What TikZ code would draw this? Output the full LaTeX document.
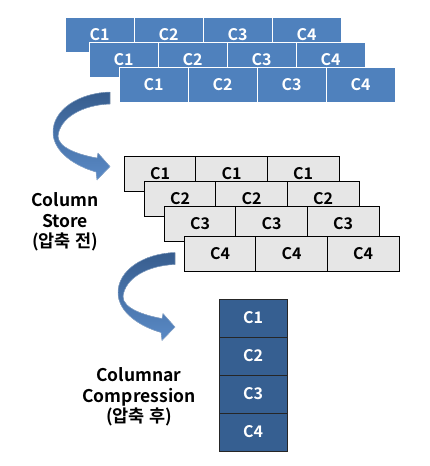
\documentclass[tikz,border=0pt]{standalone}
\usepackage{fontspec}
\setmainfont{Noto Sans CJK KR}[BoldFont={Noto Sans CJK KR Bold}]
\usepackage{tikz}
\definecolor{rowblue}{HTML}{4F81BD}
\definecolor{colblue}{HTML}{365F91}
\definecolor{cellgray}{HTML}{E6E6E6}
\definecolor{arrowtop}{HTML}{375D8E}
\definecolor{arrowbot}{HTML}{5A8AC6}

\begin{document}
\begin{tikzpicture}[x=1pt, y=-1pt,
  rowcell/.style={draw=white, line width=1pt, fill=rowblue, text=white,
    minimum width=69pt, minimum height=35pt, inner sep=0pt,
    font=\fontsize{16}{18}\selectfont\bfseries},
  graycell/.style={draw=black, line width=0.8pt, fill=cellgray,
    minimum width=72pt, minimum height=35pt, inner sep=0pt,
    font=\fontsize{16}{18}\selectfont\bfseries},
  colcell/.style={draw=black!85, line width=0.8pt, fill=colblue, text=white,
    minimum width=68pt, minimum height=38pt, inner sep=0pt,
    font=\fontsize{16}{18}\selectfont\bfseries},
  stagelabel/.style={align=center, font=\fontsize{17.5}{20.5}\selectfont\bfseries},
  bentarrow/.style={top color=arrowtop, bottom color=arrowbot, draw=arrowbot!60!white, line width=0.4pt}]
  \useasboundingbox (0,0) rectangle (429,466);

  % row store, three rows
  \node (a1) at (99.5,34.5) [rowcell] {C1} ;
  \node (a2) at (168.5,34.5) [rowcell] {C2} ;
  \node (a3) at (237.5,34.5) [rowcell] {C3} ;
  \node (a4) at (306.5,34.5) [rowcell] {C4} ;

  \node (b1) at (123.5,59.5) [rowcell] {C1} ;
  \node (b2) at (192.5,59.5) [rowcell] {C2} ;
  \node (b3) at (261.5,59.5) [rowcell] {C3} ;
  \node (b4) at (330.5,59.5) [rowcell] {C4} ;

  \node (c1) at (153.5,84.5) [rowcell] {C1} ;
  \node (c2) at (222.5,84.5) [rowcell] {C2} ;
  \node (c3) at (291.5,84.5) [rowcell] {C3} ;
  \node (c4) at (360.5,84.5) [rowcell] {C4} ;

  % first bent arrow
  \fill[bentarrow] (110,92) .. controls (78,93) and (53,110) .. (53,132)
    .. controls (53,152) and (75,166) .. (96,172) -- (97,180) -- (110,166.5)
    -- (98,153) -- (97,158) .. controls (80,155) and (58,148) .. (58,136)
    .. controls (60,118) and (82,105) .. (110,104) -- cycle;

  % column store
  \node (s1) at (160,174) [graycell] {C1} ;
  \node (s2) at (231.5,174) [graycell] {C1} ;
  \node (s3) at (303,174) [graycell] {C1} ;

  \node (t1) at (180,198.5) [graycell] {C2} ;
  \node (t2) at (251.5,198.5) [graycell] {C2} ;
  \node (t3) at (323,198.5) [graycell] {C2} ;

  \node (u1) at (200,224) [graycell] {C3} ;
  \node (u2) at (271.5,224) [graycell] {C3} ;
  \node (u3) at (343,224) [graycell] {C3} ;

  \node (v1) at (220,253.5) [graycell] {C4} ;
  \node (v2) at (291.5,253.5) [graycell] {C4} ;
  \node (v3) at (363,253.5) [graycell] {C4} ;

  \node (store) at (65,222) [stagelabel] {Column\\Store\\(압축 전)} ;

  % second bent arrow
  \begin{scope}[shift={(65,160.5)}]
  \fill[bentarrow] (110,92) .. controls (78,93) and (53,110) .. (53,132)
    .. controls (53,152) and (75,166) .. (96,172) -- (97,180) -- (110,166.5)
    -- (98,153) -- (97,158) .. controls (80,155) and (58,148) .. (58,136)
    .. controls (60,118) and (82,105) .. (110,104) -- cycle;
  \end{scope}

  % compressed column
  \node (k1) at (253,318) [colcell] {C1} ;
  \node (k2) at (253,356) [colcell] {C2} ;
  \node (k3) at (253,394) [colcell] {C3} ;
  \node (k4) at (253,432) [colcell] {C4} ;

  \node (comp) at (139,397) [stagelabel] {Columnar\\Compression\\(압축 후)} ;
\end{tikzpicture}
\end{document}
